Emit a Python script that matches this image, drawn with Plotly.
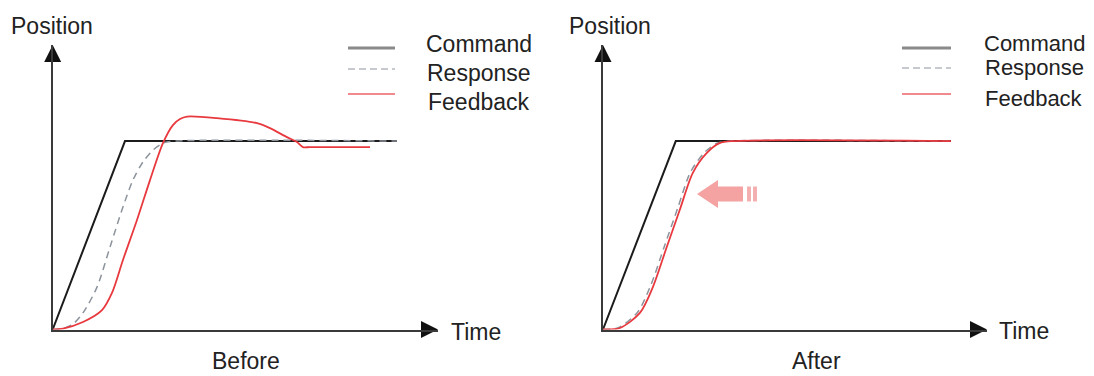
import plotly.graph_objects as go

# page body has an 8px margin, so the figure is a bit smaller and offset
OFF = 8
W, H = 1094 - OFF, 376 - OFF

# time / position in normalised units (command ramp ends at t=1, command level = 1)
before_cmd_t = [0, 1.0, 4.76]
before_cmd_p = [0, 1.0, 1.0]
before_resp_t = [0, 0.142, 0.281, 0.419, 0.613, 0.793, 0.972, 1.110, 1.248, 1.387, 1.525, 1.691, 4.76]
before_resp_p = [0, 0.005, 0.029, 0.088, 0.225, 0.438, 0.650, 0.793, 0.889, 0.952, 0.989, 1.0, 1.0]
before_fb_t = [0, 0.142, 0.419, 0.682, 0.820, 0.972, 1.166, 1.346, 1.525, 1.663, 1.761, 1.858,
               2.272, 2.826, 3.005, 3.240, 3.379, 3.462, 3.559, 4.389]
before_fb_p = [0, 0.005, 0.040, 0.103, 0.194, 0.369, 0.581, 0.793, 0.989, 1.085, 1.117, 1.130,
               1.122, 1.095, 1.069, 1.021, 0.995, 0.968, 0.968, 0.968]

after_cmd_t = [0, 1.01, 4.83]
after_cmd_p = [0, 1.0, 1.0]
after_resp_t = [0, 0.21, 0.48, 0.66, 0.855, 1.035, 1.215, 1.41, 1.59, 1.77, 4.83]
after_resp_p = [0, 0.009, 0.092, 0.232, 0.445, 0.642, 0.836, 0.94, 0.99, 1.0, 1.0]
after_fb_t = [0, 0.235, 0.512, 0.692, 0.885, 1.065, 1.245, 1.438, 1.618, 1.798, 4.83]
after_fb_p = [0, 0.008, 0.088, 0.225, 0.438, 0.634, 0.830, 0.936, 0.989, 1.0, 1.0]

legend_names = ["Command", "Response", "Feedback"]
T_MAX = 5.33
P_MAX = 1.51

FONT = "Arial, Liberation Sans, sans-serif"
CMD_COLOR = "#1c1c1c"
RESP_COLOR = "#8c939c"
FB_COLOR = "#e8393f"
AXIS_COLOR = "#3a3a3a"


def px(x):
    return (x - OFF) / W


def py(y):
    return 1 - (y - OFF) / H


fig = go.Figure()


def add_panel(xa, ya, cmd, resp, fb):
    xr = "x" if xa == 1 else f"x{xa}"
    yr = "y" if ya == 1 else f"y{ya}"
    fig.add_trace(go.Scatter(x=cmd[0], y=cmd[1], mode="lines", xaxis=xr, yaxis=yr,
                             line=dict(color=CMD_COLOR, width=2), cliponaxis=False))
    fig.add_trace(go.Scatter(x=resp[0], y=resp[1], mode="lines", xaxis=xr, yaxis=yr,
                             line=dict(color=RESP_COLOR, width=1.5, dash="7px,5px", shape="spline", smoothing=0.8),
                             cliponaxis=False))
    fig.add_trace(go.Scatter(x=fb[0], y=fb[1], mode="lines", xaxis=xr, yaxis=yr,
                             line=dict(color=FB_COLOR, width=1.8, shape="spline", smoothing=0.8),
                             cliponaxis=False))
    # arrow heads at the ends of the axes
    fig.add_trace(go.Scatter(x=[T_MAX], y=[0], mode="markers", xaxis=xr, yaxis=yr, cliponaxis=False,
                             marker=dict(symbol="arrow-right", size=17, color="#111", line=dict(width=0))))
    fig.add_trace(go.Scatter(x=[0], y=[P_MAX], mode="markers", xaxis=xr, yaxis=yr, cliponaxis=False,
                             marker=dict(symbol="arrow-up", size=17, color="#111", line=dict(width=0))))


add_panel(1, 1, (before_cmd_t, before_cmd_p), (before_resp_t, before_resp_p), (before_fb_t, before_fb_p))
add_panel(2, 2, (after_cmd_t, after_cmd_p), (after_resp_t, after_resp_p), (after_fb_t, after_fb_p))

axis_style = dict(showgrid=False, zeroline=False, showticklabels=False, ticks="",
                  showline=True, linecolor=AXIS_COLOR, linewidth=1.5, fixedrange=True)

fig.update_layout(
    width=W, height=H, autosize=False,
    margin=dict(l=0, r=0, t=0, b=0),
    paper_bgcolor="white", plot_bgcolor="white",
    showlegend=False,
    xaxis=dict(domain=[px(52.7), px(438)], range=[0, T_MAX], anchor="y", **axis_style),
    yaxis=dict(domain=[py(329.5), py(45)], range=[0, P_MAX], anchor="x", **axis_style),
    xaxis2=dict(domain=[px(603), px(987)], range=[0, T_MAX], anchor="y2", **axis_style),
    yaxis2=dict(domain=[py(329.5), py(45)], range=[0, P_MAX], anchor="x2", **axis_style),
)

shapes = []
annotations = []


def text(x, y, s, size=23):
    annotations.append(dict(x=px(x), y=py(y), xref="paper", yref="paper", text=s, showarrow=False,
                            xanchor="center", yanchor="middle",
                            font=dict(family=FONT, size=size, color="#222")))


# custom legends
legend_styles = [dict(color="#8a8a8a", width=3), dict(color="#b4b8bd", width=1.5, dash="7px,4px"),
                 dict(color="#f08a8e", width=2)]
for x0, x1, line_ys, tx, text_ys, fs in [(348, 395, [48, 69, 94], 479, [44, 73, 102], 23),
                                         (902, 951, [48, 68, 94], 1034, [43, 67, 99], 22)]:
    for name, ly, ty, st in zip(legend_names, line_ys, text_ys, legend_styles):
        shapes.append(dict(type="line", xref="paper", yref="paper", x0=px(x0), x1=px(x1),
                           y0=py(ly), y1=py(ly), line=st))
        text(tx, ty, name, fs)

text(52, 26, "Position")
text(610, 26, "Position")
text(476, 332, "Time")
text(1024, 331, "Time")
text(246, 361, "Before")
text(816, 361, "After")

# pink "shift left" arrow on the After panel
tip_x, tip_y = 697, 194
head_x, head_h = 718, 14
shaft_x, shaft_h = 743, 7.5
path = (f"M {px(tip_x)},{py(tip_y)} L {px(head_x)},{py(tip_y - head_h)} L {px(head_x)},{py(tip_y - shaft_h)} "
        f"L {px(shaft_x)},{py(tip_y - shaft_h)} L {px(shaft_x)},{py(tip_y + shaft_h)} L {px(head_x)},{py(tip_y + shaft_h)} "
        f"L {px(head_x)},{py(tip_y + head_h)} Z")
shapes.append(dict(type="path", xref="paper", yref="paper", path=path,
                   fillcolor="#f4a2a2", line=dict(width=0)))
for bx0, bx1 in [(747, 751), (753, 757)]:
    shapes.append(dict(type="rect", xref="paper", yref="paper", x0=px(bx0), x1=px(bx1),
                       y0=py(tip_y + shaft_h), y1=py(tip_y - shaft_h), fillcolor="#f4b0b0", line=dict(width=0)))

fig.update_layout(shapes=shapes, annotations=annotations)

fig.write_html("out.html", config={"displayModeBar": False})
